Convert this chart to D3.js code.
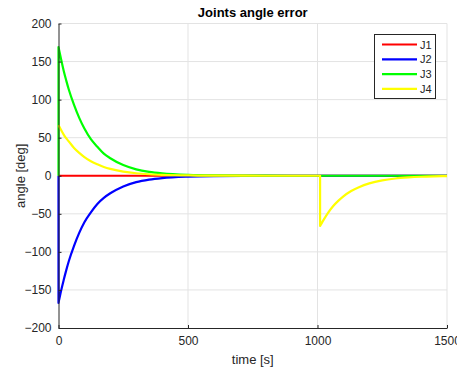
<!DOCTYPE html>
<html>
<head>
<meta charset="utf-8">
<script src="https://cdn.jsdelivr.net/npm/d3@7"></script>
<style>
  html, body { margin: 0; padding: 0; background: #ffffff; }
  svg { display: block; font-family: "Liberation Sans", Arial, Helvetica, sans-serif; }
</style>
</head>
<body>
<svg id="chart" width="457" height="369"></svg>
<script>
// Sample times for the start-up transient
const tStart = [0, 0, 10, 20, 30, 40, 60, 80, 100, 125, 150, 175, 200, 250, 300, 350, 400, 500, 600, 800, 1000, 1500];

// Joint errors (deg) at tStart
const j1 = [0, 0, 0, 0, 0, 0, 0, 0, 0, 0, 0, 0, 0, 0, 0, 0, 0, 0, 0, 0, 0, 0];
const j2 = [0, -167, -151, -137, -124, -112, -92, -75, -61, -48, -37, -29, -23, -14, -8.3, -5, -3, -1.1, -0.4, -0.1, 0, 0];
const j3 = [0, 169, 153, 138, 125, 113, 93, 76, 62, 48, 38, 29, 23, 14, 8.4, 5.1, 3.1, 1.1, 0.4, 0.1, 0, 0];

// J4 starts directly at its initial error and has a second disturbance near t = 1010 s
const tJ4 = [0, 10, 20, 30, 40, 60, 80, 100, 125, 150, 175, 200, 250, 300, 350, 400, 500, 600, 800, 1010,
             1010, 1020, 1040, 1060, 1080, 1100, 1130, 1160, 1200, 1250, 1300, 1350, 1400, 1450, 1500];
const j4 = [66.5, 60, 54, 49, 45, 36.5, 30, 24.5, 19, 15, 11.6, 9, 5.5, 3.3, 2, 1.2, 0.4, 0.2, 0, 0,
            -66, -60, -49, -40, -33, -27, -20, -15, -10, -6, -3.6, -2.2, -1.3, -0.8, -0.5];

const seriesNames = ["J1", "J2", "J3", "J4"];
const seriesColors = ["#ff0000", "#0000ff", "#00ff00", "#ffff00"];
const xTicks = [0, 500, 1000, 1500];
const yTicks = [-200, -150, -100, -50, 0, 50, 100, 150, 200];

const series = [
  { name: seriesNames[0], color: seriesColors[0], t: tStart, v: j1 },
  { name: seriesNames[1], color: seriesColors[1], t: tStart, v: j2 },
  { name: seriesNames[2], color: seriesColors[2], t: tStart, v: j3 },
  { name: seriesNames[3], color: seriesColors[3], t: tJ4, v: j4 }
];

const svg = d3.select("#chart");
const mLeft = 58.5, mRight = 447, mTop = 23.5, mBottom = 328;

const x = d3.scaleLinear().domain([0, 1500]).range([mLeft, mRight]);
const y = d3.scaleLinear().domain([-200, 200]).range([mBottom, mTop]);

const axisColor = "#262626";
const gridColor = "#e3e3e3";

// grid
const grid = svg.append("g");
grid.selectAll(".gx").data(xTicks.filter(d => d !== 0)).enter().append("line")
  .attr("x1", d => x(d)).attr("x2", d => x(d))
  .attr("y1", mTop).attr("y2", mBottom)
  .attr("stroke", gridColor).attr("stroke-width", 1);
grid.selectAll(".gy").data(yTicks.filter(d => d !== -200)).enter().append("line")
  .attr("x1", mLeft).attr("x2", mRight)
  .attr("y1", d => y(d)).attr("y2", d => y(d))
  .attr("stroke", gridColor).attr("stroke-width", 1);

// Build a path: smooth pieces joined by straight vertical jumps where a time repeats
function buildPath(ts, vs) {
  const pts = ts.map((t, i) => [x(t), y(vs[i])]);
  const pieces = [];
  let cur = [pts[0]];
  for (let i = 1; i < pts.length; i++) {
    if (ts[i] === ts[i - 1]) { pieces.push(cur); cur = [pts[i]]; }
    else cur.push(pts[i]);
  }
  pieces.push(cur);
  const smooth = d3.line().curve(d3.curveMonotoneX);
  let d = "";
  pieces.forEach((p, k) => {
    if (p.length === 1) { d += (k === 0 ? "M" : "L") + p[0][0] + "," + p[0][1]; return; }
    const s = smooth(p);
    d += k === 0 ? s : s.replace(/^M/, "L");
  });
  return d;
}

// curves
const plot = svg.append("g");
series.forEach(s => {
  plot.append("path")
    .attr("d", buildPath(s.t, s.v))
    .attr("fill", "none")
    .attr("stroke", s.color)
    .attr("stroke-width", 2.2)
    .attr("stroke-linejoin", "round");
});

// axes
const xAxis = d3.axisBottom(x).tickValues(xTicks).tickFormat(d3.format("d"))
  .tickSizeInner(-3).tickSizeOuter(0).tickPadding(8);
const yAxis = d3.axisLeft(y).tickValues(yTicks).tickFormat(d3.format("d"))
  .tickSizeInner(-3).tickSizeOuter(0).tickPadding(7);

const gx = svg.append("g").attr("transform", `translate(0,${mBottom})`).call(xAxis);
const gy = svg.append("g").attr("transform", `translate(${mLeft},0)`).call(yAxis);
[gx, gy].forEach(g => {
  g.select(".domain").attr("stroke", axisColor).attr("stroke-width", 1);
  g.selectAll(".tick line").attr("stroke", axisColor);
  g.selectAll(".tick text").attr("fill", axisColor).attr("font-size", 12)
    .attr("font-family", "Liberation Sans, Arial, sans-serif");
});

// title and axis labels
svg.append("text").attr("x", (mLeft + mRight) / 2).attr("y", 16.5)
  .attr("text-anchor", "middle").attr("font-weight", "bold").attr("font-size", 13)
  .attr("fill", "#000").text("Joints angle error");
svg.append("text").attr("x", (mLeft + mRight) / 2).attr("y", 364)
  .attr("text-anchor", "middle").attr("font-size", 13)
  .attr("fill", axisColor).text("time [s]");
svg.append("text").attr("transform", `translate(24.5,${(mTop + mBottom) / 2}) rotate(-90)`)
  .attr("text-anchor", "middle").attr("font-size", 13)
  .attr("fill", axisColor).text("angle [deg]");

// legend
const lg = svg.append("g");
lg.append("rect").attr("x", 374.5).attr("y", 34.5).attr("width", 61).attr("height", 64)
  .attr("fill", "#fff").attr("stroke", axisColor).attr("stroke-width", 1);
series.forEach((s, i) => {
  const yy = 44.5 + i * 14.8;
  lg.append("line").attr("x1", 382).attr("x2", 417).attr("y1", yy).attr("y2", yy)
    .attr("stroke", s.color).attr("stroke-width", 2.2);
  lg.append("text").attr("x", 420).attr("y", yy + 4).attr("font-size", 11)
    .attr("fill", axisColor).text(s.name);
});
</script>
</body>
</html>
